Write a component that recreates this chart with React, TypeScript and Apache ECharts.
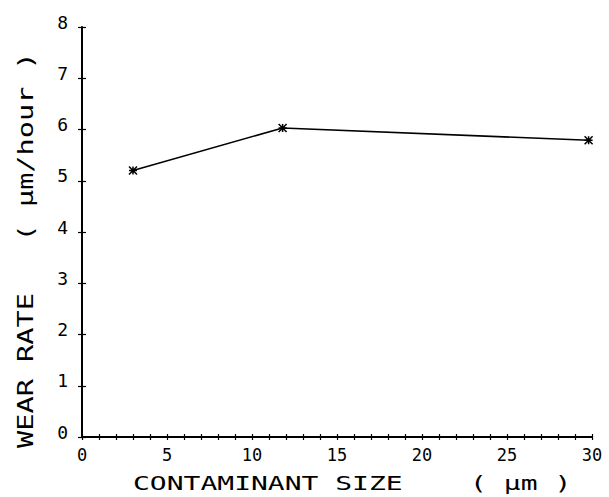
import React, { useEffect, useRef } from "react";
import * as echarts from "echarts";

const contaminantSize = [3, 11.8, 29.8];
const wearRate = [5.2, 6.03, 5.79];
const xTickLabels = ["0", "5", "10", "15", "20", "25", "30"];
const yTickLabels = ["0", "1", "2", "3", "4", "5", "6", "7", "8"];
const xTitle = "CONTAMINANT SIZE    ( µm )";
const yTitle = "WEAR RATE   ( µm/hour )";

const FONT = "DejaVu Sans Mono";

export default function App() {
  const ref = useRef<HTMLDivElement>(null);
  useEffect(() => {
    if (!ref.current) return;
    const chart = echarts.init(ref.current, undefined, { renderer: "svg" });
    const points = contaminantSize.map((x, i) => [x, wearRate[i]]);
    const grid = { left: 82, top: 27, right: 17, bottom: 60 };
    chart.setOption({
      animation: false,
      backgroundColor: "#ffffff",
      grid,
      xAxis: [
        {
          type: "value",
          min: 0,
          max: 30,
          interval: 1,
          axisLine: { show: true, lineStyle: { color: "#000", width: 2 } },
          axisTick: { show: true, length: 3, lineStyle: { color: "#000", width: 1.2 } },
          splitLine: { show: false },
          axisLabel: {
            margin: 9,
            fontFamily: FONT,
            fontSize: 17,
            color: "#000",
            formatter: (v: number) => (xTickLabels.includes(String(v)) ? String(v) : ""),
          },
        },
        {
          type: "value",
          min: 0,
          max: 30,
          interval: 1,
          position: "bottom",
          axisLine: { show: false },
          axisTick: { show: true, inside: true, length: 3, lineStyle: { color: "#000", width: 1.2 } },
          splitLine: { show: false },
          axisLabel: { show: false },
        },
      ],
      yAxis: [
        {
          type: "value",
          min: 0,
          max: 8,
          interval: 1,
          axisLine: { show: true, lineStyle: { color: "#000", width: 2 } },
          axisTick: { show: true, length: 4, lineStyle: { color: "#000", width: 1.2 } },
          splitLine: { show: false },
          axisLabel: {
            margin: 14,
            fontFamily: FONT,
            fontSize: 18,
            color: "#000",
            verticalAlign: "bottom",
            lineHeight: 10,
            formatter: (v: number) => (yTickLabels.includes(String(v)) ? String(v) : ""),
          },
        },
        {
          type: "value",
          min: 0,
          max: 8,
          interval: 1,
          position: "left",
          axisLine: { show: false },
          axisTick: { show: true, inside: true, length: 4, lineStyle: { color: "#000", width: 1.2 } },
          splitLine: { show: false },
          axisLabel: { show: false },
        },
      ],
      graphic: [
        {
          type: "text",
          x: 133,
          y: 475,
          scaleX: 1.4,
          style: {
            text: xTitle,
            fontFamily: FONT,
            fontSize: 20,
            lineHeight: 16,
            fill: "#000",
            align: "left",
            verticalAlign: "top",
          },
        },
        {
          type: "text",
          x: 25,
          y: 448,
          rotation: Math.PI / 2,
          scaleX: 1.3,
          style: {
            text: yTitle,
            fontFamily: FONT,
            fontSize: 22,
            fill: "#000",
            align: "left",
            verticalAlign: "middle",
          },
        },
      ],
      series: [
        {
          type: "line",
          data: points,
          xAxisIndex: 0,
          yAxisIndex: 0,
          symbol: "path://M0,0L8,8M8,0L0,8M4,0L4,8M0,4L8,4",
          symbolSize: 8,
          itemStyle: { color: "#000", borderColor: "#000", borderWidth: 1.5 },
          lineStyle: { color: "#000", width: 1.6 },
        },
      ],
    });
    return () => chart.dispose();
  }, []);
  return (
    <div
      ref={ref}
      style={{ position: "absolute", left: 0, top: 0, width: 609, height: 497 }}
    />
  );
}
